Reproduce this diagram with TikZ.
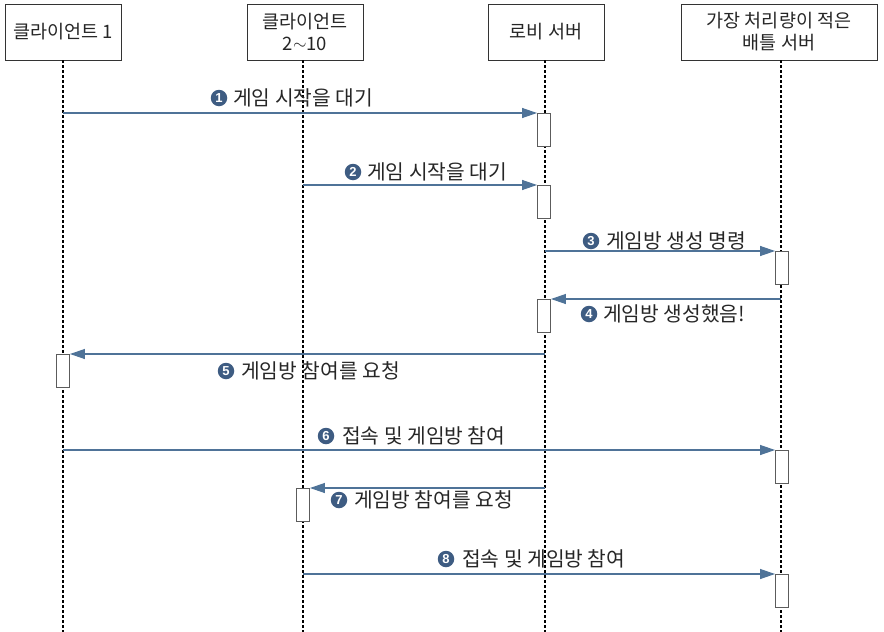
\documentclass[tikz,border=0pt]{standalone}
\usepackage{fontspec}
\setmainfont{Noto Sans CJK KR}
\newfontfamily\numfont{Liberation Sans}
\usetikzlibrary{arrows.meta}
\definecolor{arrowblue}{HTML}{4F7398}
\definecolor{badgeblue}{HTML}{3E5C82}
\definecolor{boxgray}{HTML}{333333}
\begin{document}
\begin{tikzpicture}[x=1pt,y=-1pt,
  actor/.style={draw=boxgray,line width=0.9pt,fill=white,minimum height=56pt,align=center,font=\fontsize{18.5}{22}\selectfont,inner sep=0pt,text=black!85},
  life/.style={draw=black,line width=1.1pt,dash pattern=on 3pt off 2pt},
  act/.style={draw=boxgray!80,line width=0.9pt,fill=white,minimum width=13pt,minimum height=33pt,inner sep=0pt},
  msg/.style={draw=arrowblue,line width=1.2pt,-{Triangle[length=15pt,width=10pt]}},
  lbl/.style={anchor=west,inner sep=0pt,font=\fontsize{20.3}{23}\selectfont,text=black!85},
  badge/.style={circle,fill=badgeblue,text=white,inner sep=0pt,minimum size=16.5pt,font=\numfont\bfseries\fontsize{13}{13}\selectfont}]
\useasboundingbox (0,0) rectangle (884,632);
% actors
\node[actor,minimum width=116pt] (a1) at (63,32) {클라이언트 1};
\node[actor,minimum width=116pt] (a2) at (305,32) {클라이언트\\2\raisebox{0.15ex}{$\sim$}10};
\node[actor,minimum width=116pt] (a3) at (546,32) {로비 서버};
\node[actor,minimum width=196pt] (a4) at (779,32) {가장 처리량이 적은\\배틀 서버};
% lifeline ends
\coordinate (e1) at (63,632);
\coordinate (e2) at (303,632);
\coordinate (e3) at (545,632);
\coordinate (e4) at (781,632);
\draw[life] (63,60) -- (e1);
\draw[life] (303,60) -- (e2);
\draw[life] (545,60) -- (e3);
\draw[life] (781,60) -- (e4);
% activation boxes
\node[act,anchor=north] (k1) at (544,113) {};
\node[act,anchor=north] (k2) at (544,185) {};
\node[act,anchor=north] (k3) at (782,251) {};
\node[act,anchor=north] (k4) at (544,299) {};
\node[act,anchor=north] (k5) at (63,354) {};
\node[act,anchor=north] (k6) at (782,450) {};
\node[act,anchor=north] (k7) at (303,488) {};
\node[act,anchor=north] (k8) at (782,574) {};
% sources
\coordinate (s1) at (63,113);
\coordinate (s2) at (303,185);
\coordinate (s3) at (545,251);
\coordinate (s4) at (781,299);
\coordinate (s5) at (545,354);
\coordinate (s6) at (63,450);
\coordinate (s7) at (545,488);
\coordinate (s8) at (303,574);
\draw[msg] (s1) -- (k1.north west);
\draw[msg] (s2) -- (k2.north west);
\draw[msg] (s3) -- (k3.north west);
\draw[msg] (s4) -- (k4.north east);
\draw[msg] (s5) -- (k5.north east);
\draw[msg] (s6) -- (k6.north west);
\draw[msg] (s7) -- (k7.north east);
\draw[msg] (s8) -- (k8.north west);
% labels
\node[badge] (b1) at (219,98) {1};
\node[lbl] (t1) at (233,98) {게임 시작을 대기};
\node[badge] (b2) at (353,172) {2};
\node[lbl] (t2) at (367,172) {게임 시작을 대기};
\node[badge] (b3) at (591,241) {3};
\node[lbl] (t3) at (606,241) {게임방 생성 명령};
\node[badge] (b4) at (589,314) {4};
\node[lbl] (t4) at (603,314) {게임방 생성했음!};
\node[badge] (b5) at (226,371) {5};
\node[lbl] (t5) at (241,371) {게임방 참여를 요청};
\node[badge] (b6) at (326,436) {6};
\node[lbl] (t6) at (342,436) {접속 및 게임방 참여};
\node[badge] (b7) at (339,500) {7};
\node[lbl] (t7) at (354,500) {게임방 참여를 요청};
\node[badge] (b8) at (446,559) {8};
\node[lbl] (t8) at (462,559) {접속 및 게임방 참여};
\end{tikzpicture}
\end{document}
